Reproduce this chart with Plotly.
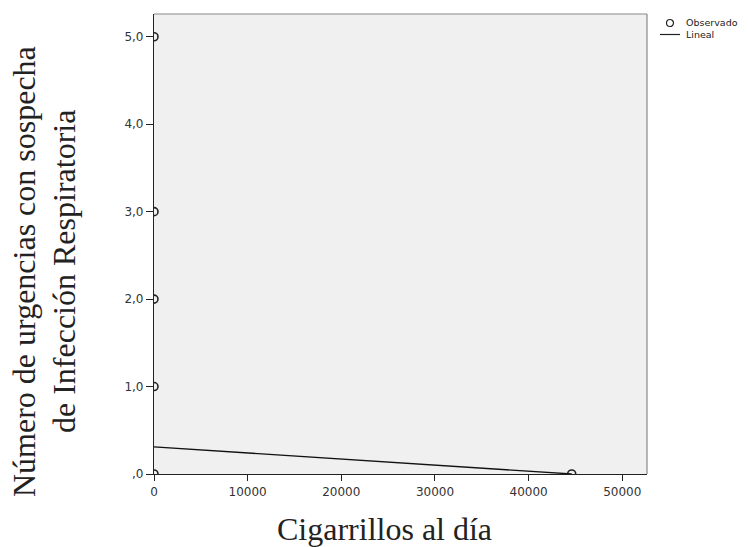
import plotly.graph_objects as go

# Observed data
obs_x = [0, 0, 0, 0, 0, 44600]
obs_y = [0, 1, 2, 3, 5, 0]

# Linear fit endpoints
fit_x = [0, 44600]
fit_y = [0.31, 0.0]

x_ticks = [0, 10000, 20000, 30000, 40000, 50000]
x_ticktext = ["0", "10000", "20000", "30000", "40000", "50000"]
y_ticks = [0, 1, 2, 3, 4, 5]
y_ticktext = [",0", "1,0", "2,0", "3,0", "4,0", "5,0"]

legend_names = ["Observado", "Lineal"]

# page geometry (the html body adds an 8px offset)
OFF = 8
PL, PR, PT, PB = 154, 647, 14, 474
W, H = 748, 547
pw, ph = PR - PL, PB - PT


def px(xp):
    return (xp - PL) / pw


def py(yp):
    return (PB - yp) / ph


fig = go.Figure()
fig.add_trace(go.Scatter(
    x=obs_x, y=obs_y, mode="markers", name=legend_names[0],
    marker=dict(symbol="circle-open", size=8, color="#222222", line=dict(width=1.6)),
    cliponaxis=True, showlegend=False,
))
fig.add_trace(go.Scatter(
    x=fit_x, y=fit_y, mode="lines", name=legend_names[1],
    line=dict(color="#111111", width=1.3), showlegend=False,
))

tickfont = dict(family="DejaVu Sans", size=12, color="#333333")
serif = dict(family="Liberation Serif", size=32, color="#222222")
legfont = dict(family="DejaVu Sans", size=9.5, color="#222222")

fig.update_layout(
    width=W, height=H,
    margin=dict(l=PL - OFF, r=W - (PR - OFF), t=PT - OFF, b=H - (PB - OFF)),
    paper_bgcolor="white",
    plot_bgcolor="#f0f0f0",
    showlegend=False,
    xaxis=dict(range=[0, 52640], tickvals=x_ticks, ticktext=x_ticktext,
               ticks="outside", ticklen=6, tickcolor="#222222", tickwidth=1,
               showgrid=False, zeroline=False, showline=True, linecolor="#222222",
               linewidth=1.2, mirror=False, tickfont=tickfont, automargin=False),
    yaxis=dict(range=[0, 5.26], tickvals=y_ticks, ticktext=y_ticktext,
               ticks="outside", ticklen=7, tickcolor="#222222", tickwidth=1,
               showgrid=False, zeroline=False, showline=True, linecolor="#222222",
               linewidth=1.2, mirror=False, tickfont=tickfont, automargin=False),
    shapes=[
        dict(type="line", xref="paper", yref="paper", x0=0, x1=1, y0=1, y1=1,
             line=dict(color="#888888", width=1.2)),
        dict(type="line", xref="paper", yref="paper", x0=1, x1=1, y0=0, y1=1,
             line=dict(color="#888888", width=1.2)),
        # legend symbols
        dict(type="circle", xref="paper", yref="paper",
             x0=px(666.5), x1=px(673.5), y0=py(26.5), y1=py(19.5),
             line=dict(color="#222222", width=1.2)),
        dict(type="line", xref="paper", yref="paper",
             x0=px(660), x1=px(680), y0=py(34.5), y1=py(34.5),
             line=dict(color="#222222", width=1.2)),
    ],
    annotations=[
        dict(text=legend_names[0], xref="paper", yref="paper", x=px(685), y=py(22.5),
             xanchor="left", yanchor="middle", showarrow=False, font=legfont, borderpad=0),
        dict(text=legend_names[1], xref="paper", yref="paper", x=px(685), y=py(34.5),
             xanchor="left", yanchor="middle", showarrow=False, font=legfont, borderpad=0),
        dict(text="Cigarrillos al día", xref="paper", yref="paper",
             x=px(384.5), y=py(529), xanchor="center", yanchor="middle",
             showarrow=False, font=serif),
        dict(text="Número de urgencias con sospecha", xref="paper", yref="paper",
             x=px(24), y=py(272), xanchor="center", yanchor="middle",
             textangle=-90, showarrow=False, font=serif, borderpad=0),
        dict(text="de Infección Respiratoria", xref="paper", yref="paper",
             x=px(64), y=py(272), xanchor="center", yanchor="middle",
             textangle=-90, showarrow=False, font=serif, borderpad=0),
    ],
)

fig.write_html("out.html")
